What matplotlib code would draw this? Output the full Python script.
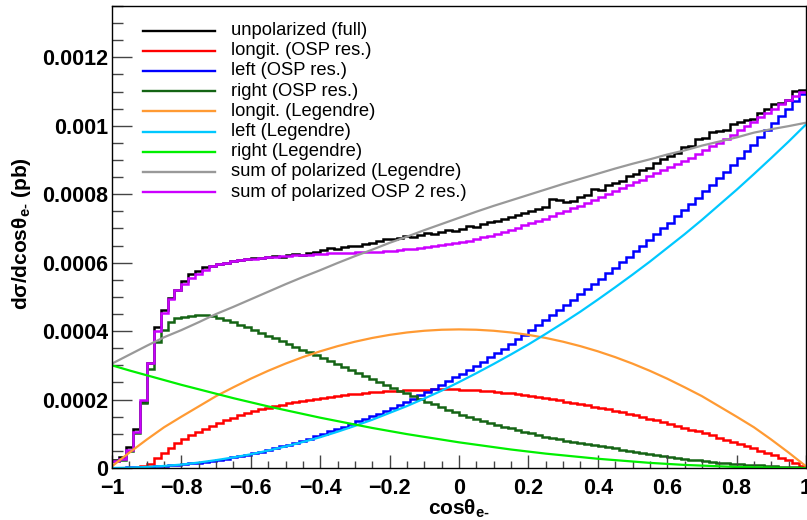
import numpy as np
import matplotlib
matplotlib.use("Agg")
import matplotlib.pyplot as plt
from matplotlib.lines import Line2D
from matplotlib.ticker import MultipleLocator, FixedLocator, FixedFormatter

plt.rcParams['font.family'] = ['Liberation Sans', 'DejaVu Sans']
plt.rcParams['mathtext.fontset'] = 'custom'
plt.rcParams['mathtext.rm'] = 'Liberation Sans:bold'
plt.rcParams['mathtext.it'] = 'Liberation Sans:bold'
plt.rcParams['mathtext.bf'] = 'Liberation Sans:bold'

# all cross sections below are in units of 1e-4 pb
UNIT = 1e-4

# 100 bins in cos(theta_e-)
bin_edges = np.linspace(-1.0, 1.0, 101)

unpolarized_full = [
    0.24, 0.32, 0.60, 1.14, 1.92, 3.06, 4.13, 4.62, 4.98, 5.20,
    5.45, 5.66, 5.76, 5.86, 5.90, 5.95, 6.00, 6.04, 6.08, 6.12,
    6.15, 6.13, 6.18, 6.20, 6.17, 6.22, 6.25, 6.23, 6.28, 6.30,
    6.36, 6.42, 6.40, 6.45, 6.50, 6.48, 6.55, 6.58, 6.62, 6.70,
    6.68, 6.73, 6.77, 6.75, 6.82, 6.86, 6.84, 6.90, 6.94, 6.93,
    6.98, 7.08, 7.05, 7.12, 7.18, 7.22, 7.27, 7.33, 7.38, 7.44,
    7.52, 7.58, 7.64, 7.86, 7.84, 7.78, 7.80, 7.92, 7.98, 8.16,
    8.12, 8.26, 8.33, 8.40, 8.52, 8.60, 8.70, 8.78, 8.92, 9.02,
    9.13, 9.20, 9.38, 9.42, 9.60, 9.63, 9.82, 9.86, 9.88, 10.05,
    10.10, 10.18, 10.20, 10.36, 10.48, 10.64, 10.68, 10.74, 11.02, 11.05,
]

longit_osp = [
    0.00, 0.00, 0.00, 0.01, 0.05, 0.12, 0.28, 0.44, 0.58, 0.72,
    0.84, 0.95, 1.06, 1.15, 1.24, 1.32, 1.40, 1.47, 1.54, 1.60,
    1.66, 1.71, 1.76, 1.81, 1.85, 1.89, 1.93, 1.96, 1.99, 2.02,
    2.05, 2.08, 2.11, 2.13, 2.15, 2.17, 2.19, 2.21, 2.22, 2.24,
    2.25, 2.26, 2.27, 2.28, 2.29, 2.29, 2.30, 2.30, 2.30, 2.30,
    2.29, 2.28, 2.27, 2.26, 2.24, 2.22, 2.20, 2.18, 2.15, 2.13,
    2.10, 2.07, 2.04, 2.01, 1.98, 1.94, 1.91, 1.87, 1.83, 1.79,
    1.75, 1.71, 1.67, 1.63, 1.59, 1.54, 1.49, 1.44, 1.39, 1.34,
    1.29, 1.23, 1.17, 1.12, 1.07, 1.01, 0.95, 0.89, 0.83, 0.77,
    0.71, 0.64, 0.57, 0.51, 0.44, 0.37, 0.30, 0.22, 0.14, 0.05,
]

left_osp = [
    0.00, 0.01, 0.02, 0.02, 0.03, 0.04, 0.05, 0.06, 0.08, 0.10,
    0.12, 0.14, 0.16, 0.18, 0.21, 0.24, 0.27, 0.31, 0.35, 0.39,
    0.43, 0.48, 0.53, 0.58, 0.63, 0.68, 0.74, 0.80, 0.86, 0.93,
    1.00, 1.07, 1.14, 1.21, 1.28, 1.36, 1.43, 1.51, 1.59, 1.67,
    1.76, 1.85, 1.94, 2.03, 2.12, 2.22, 2.32, 2.43, 2.54, 2.65,
    2.76, 2.87, 2.99, 3.11, 3.23, 3.36, 3.49, 3.62, 3.76, 3.90,
    4.04, 4.18, 4.32, 4.47, 4.62, 4.77, 4.92, 5.07, 5.22, 5.37,
    5.53, 5.69, 5.85, 6.01, 6.17, 6.33, 6.49, 6.66, 6.83, 7.00,
    7.17, 7.35, 7.53, 7.71, 7.89, 8.08, 8.27, 8.46, 8.65, 8.85,
    9.05, 9.25, 9.45, 9.66, 9.87, 10.08, 10.29, 10.50, 10.71, 10.92,
]

right_osp = [
    0.20, 0.24, 0.50, 1.02, 1.90, 2.90, 3.68, 4.03, 4.28, 4.37,
    4.42, 4.45, 4.46, 4.46, 4.44, 4.39, 4.33, 4.26, 4.19, 4.11,
    4.03, 3.95, 3.87, 3.79, 3.71, 3.63, 3.55, 3.46, 3.38, 3.30,
    3.21, 3.12, 3.03, 2.95, 2.86, 2.77, 2.68, 2.59, 2.51, 2.43,
    2.34, 2.26, 2.18, 2.10, 2.02, 1.94, 1.86, 1.78, 1.70, 1.63,
    1.56, 1.49, 1.43, 1.37, 1.31, 1.26, 1.21, 1.16, 1.11, 1.06,
    1.01, 0.97, 0.92, 0.88, 0.84, 0.80, 0.76, 0.72, 0.69, 0.66,
    0.63, 0.60, 0.57, 0.54, 0.51, 0.48, 0.45, 0.42, 0.39, 0.36,
    0.33, 0.30, 0.27, 0.24, 0.22, 0.20, 0.18, 0.16, 0.14, 0.12,
    0.11, 0.10, 0.09, 0.08, 0.06, 0.05, 0.04, 0.03, 0.02, 0.01,
]

# Legendre-expansion curves, sampled every 0.05 in cos(theta_e-)
legendre_x = np.linspace(-1.0, 1.0, 41)
longit_leg = [
    0.05, 0.45, 0.83, 1.19, 1.50, 1.80, 2.10, 2.36, 2.61, 2.84,
    3.05, 3.24, 3.41, 3.56, 3.69, 3.80, 3.89, 3.96, 4.01, 4.04,
    4.05,
    4.04, 4.01, 3.96, 3.89, 3.80, 3.69, 3.56, 3.41, 3.24, 3.05,
    2.84, 2.61, 2.36, 2.10, 1.80, 1.50, 1.19, 0.83, 0.45, 0.05,
]
left_leg = [
    0.00, 0.01, 0.03, 0.06, 0.10, 0.16, 0.23, 0.31, 0.40, 0.51,
    0.63, 0.76, 0.90, 1.06, 1.23, 1.41, 1.61, 1.81, 2.03, 2.26,
    2.51,
    2.77, 3.04, 3.32, 3.61, 3.92, 4.24, 4.57, 4.92, 5.28, 5.65,
    6.03, 6.43, 6.83, 7.25, 7.69, 8.13, 8.59, 9.06, 9.54, 10.04,
]
right_leg = [
    3.00, 2.85, 2.71, 2.57, 2.43, 2.30, 2.17, 2.04, 1.92, 1.80,
    1.69, 1.58, 1.47, 1.37, 1.27, 1.17, 1.08, 0.99, 0.91, 0.83,
    0.75,
    0.68, 0.61, 0.54, 0.48, 0.42, 0.37, 0.32, 0.27, 0.23, 0.19,
    0.15, 0.12, 0.09, 0.07, 0.05, 0.03, 0.02, 0.01, 0.00, 0.00,
]

x_tick_labels = ['\u22121', '\u22120.8', '\u22120.6', '\u22120.4', '\u22120.2',
                 '0', '0.2', '0.4', '0.6', '0.8', '1']
y_tick_labels = ['0', '0.0002', '0.0004', '0.0006', '0.0008', '0.001', '0.0012']

# sums of the polarized pieces
sum_leg = np.array(longit_leg) + np.array(left_leg) + np.array(right_leg)
sum_osp = np.array(longit_osp) + np.array(left_osp) + np.array(right_osp)

C_BLACK = 'black'
C_RED = '#ff0000'
C_BLUE = '#0000ff'
C_DKGREEN = '#146414'
C_ORANGE = '#ff9a33'
C_LTBLUE = '#00c8ff'
C_GREEN = '#00f000'
C_GRAY = '#999999'
C_VIOLET = '#cc00ff'

W, H = 807, 520
fig = plt.figure(figsize=(W / 100, H / 100), dpi=100)
ax = fig.add_axes([112 / W, 52 / H, (806 - 112) / W, (468 - 6) / H])

HLW = 1.8
CLW = 1.6

entries = []


def hist(vals, color, label):
    ax.stairs(np.array(vals) * UNIT, bin_edges, color=color, lw=HLW,
              baseline=None, fill=False)
    entries.append((color, label))


def curve(vals, color, label):
    ax.plot(legendre_x, np.array(vals) * UNIT, color=color, lw=CLW,
            solid_capstyle='butt')
    entries.append((color, label))


hist(unpolarized_full, C_BLACK, 'unpolarized (full)')
hist(longit_osp, C_RED, 'longit. (OSP res.)')
hist(left_osp, C_BLUE, 'left (OSP res.)')
hist(right_osp, C_DKGREEN, 'right (OSP res.)')
curve(longit_leg, C_ORANGE, 'longit. (Legendre)')
curve(left_leg, C_LTBLUE, 'left (Legendre)')
curve(right_leg, C_GREEN, 'right (Legendre)')
curve(sum_leg, C_GRAY, 'sum of polarized (Legendre)')
hist(sum_osp, C_VIOLET, 'sum of polarized OSP 2 res.)')

ax.set_xlim(-1.0, 1.0)
ax.set_ylim(0.0, 0.00135)

ax.xaxis.set_major_locator(FixedLocator(np.linspace(-1.0, 1.0, 11)))
ax.xaxis.set_major_formatter(FixedFormatter(x_tick_labels))
ax.xaxis.set_minor_locator(MultipleLocator(0.05))
ax.yaxis.set_major_locator(FixedLocator(np.arange(7) * 0.0002))
ax.yaxis.set_major_formatter(FixedFormatter(y_tick_labels))
ax.yaxis.set_minor_locator(MultipleLocator(0.00005))

ax.tick_params(axis='both', which='both', direction='in', top=False,
               right=False, color='#444444', width=1.0)
ax.tick_params(axis='x', which='major', length=9.5, pad=7)
ax.tick_params(axis='x', which='minor', length=5)
ax.tick_params(axis='y', which='major', length=14.5, pad=3)
ax.tick_params(axis='y', which='minor', length=8)
for lab in ax.get_xticklabels() + ax.get_yticklabels():
    lab.set_fontsize(15.5)
    lab.set_fontweight('bold')
for sp in ax.spines.values():
    sp.set_linewidth(1.0)

# axis titles
fig.text(459 / W, 1 - 508.5 / H, 'cos\u03b8$_{\\text{e-}}$', ha='center',
         va='center', fontsize=15, fontweight='bold')
fig.text(22 / W, 1 - 234 / H, 'd\u03c3/dcos\u03b8$_{\\text{e-}}$ (pb)',
         ha='center', va='center', rotation=90, fontsize=15,
         fontweight='bold')

# legend without frame
for k, (color, label) in enumerate(entries):
    yk = 1 - (30.5 + 20.2 * k) / H
    fig.add_artist(Line2D([143 / W, 215 / W], [yk, yk], color=color,
                          lw=1.7, transform=fig.transFigure))
    fig.text(231 / W, yk, label, ha='left', va='center', fontsize=13.2)

fig.savefig('out.png', dpi=100)
